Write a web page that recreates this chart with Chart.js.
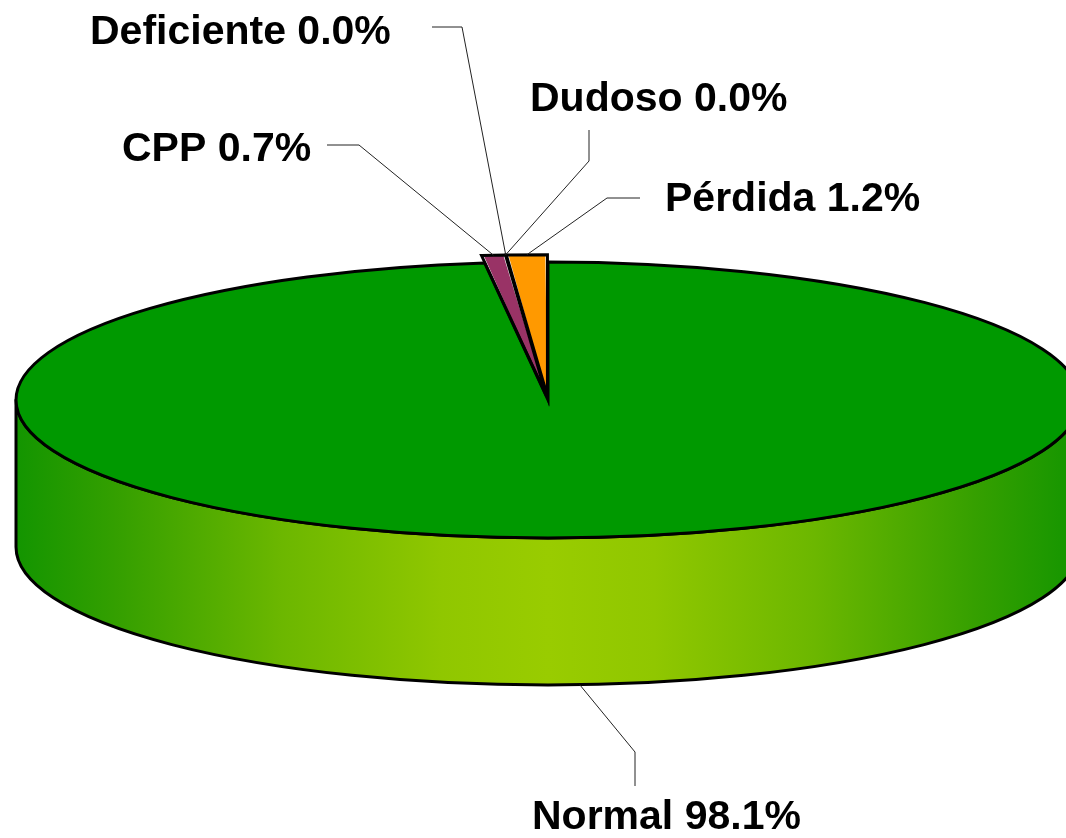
<!DOCTYPE html>
<html>
<head>
<meta charset="utf-8">
<script src="https://cdn.jsdelivr.net/npm/chart.js@4"></script>
<style>
html,body{margin:0;padding:0;background:#ffffff;}
#wrap{width:1066px;height:838px;position:relative;}
</style>
</head>
<body>
<div id="wrap"><canvas id="c"></canvas></div>
<script>
// ---- data ----
const categories = ['Normal', 'CPP', 'Deficiente', 'Dudoso', 'Pérdida'];
const percentages = [98.1, 0.7, 0.0, 0.0, 1.2];
const sliceColors = ['#009900', '#993366', '#FFFFCC', '#CCFFFF', '#FF9900'];
const sliceOffsets = [0, 44, 44, 44, 44];

// ---- style / layout of the projected 3D pie ----
const PIE = { cx: 548, cy: 400, rx: 532, ry: 138, depth: 147 };
const LABEL_FONT = 'bold 41px "Liberation Sans", Arial, sans-serif';
const labelLayout = [
  { elbow: [635, 752], end: [635, 786], text: [532, 818] },  // Normal
  { elbow: [359, 145], end: [327, 145], text: [122, 150] },  // CPP
  { elbow: [462, 27],  end: [432, 27],  text: [90, 33] },    // Deficiente
  { elbow: [589, 161], end: [589, 130], text: [530, 100] },  // Dudoso
  { elbow: [607, 198], end: [640, 198], text: [665, 200] }   // Pérdida
];

function arcGeom(arc) {
  const p = arc.getProps(['x', 'y', 'startAngle', 'endAngle', 'outerRadius', 'circumference'], true);
  const off = (arc.options.offset || 0) / 4;
  const half = (p.startAngle + p.endAngle) / 2;
  const fix = 1 - Math.sin(Math.min(Math.PI, p.circumference || 0));
  return {
    x: p.x + Math.cos(half) * off,
    y: p.y + Math.sin(half) * off,
    r: p.outerRadius + off * fix,
    s: p.startAngle, e: p.endAngle, mid: half,
    cx0: p.x, cy0: p.y, R: p.outerRadius
  };
}
function applyProjection(ctx, g) {
  ctx.translate(PIE.cx, PIE.cy);
  ctx.scale(PIE.rx / g.R, PIE.ry / g.R);
  ctx.translate(-g.cx0, -g.cy0);
}
function toScreen(g, px, py) {
  return [PIE.cx + (px - g.cx0) * PIE.rx / g.R, PIE.cy + (py - g.cy0) * PIE.ry / g.R];
}

const pie3d = {
  id: 'pie3d',
  beforeDatasetsDraw(chart) {
    const ctx = chart.ctx;
    const arcs = chart.getDatasetMeta(0).data;
    // side walls (front half only)
    arcs.forEach((arc) => {
      const g = arcGeom(arc);
      const a0 = Math.max(g.s, 0), a1 = Math.min(g.e, Math.PI);
      if (a1 <= a0) return;
      const grad = ctx.createLinearGradient(PIE.cx - PIE.rx, 0, PIE.cx + PIE.rx, 0);
      grad.addColorStop(0, '#139500');
      grad.addColorStop(0.1, '#36a000');
      grad.addColorStop(0.25, '#6cb700');
      grad.addColorStop(0.4, '#90c700');
      grad.addColorStop(0.5, '#99cc00');
      grad.addColorStop(0.6, '#90c700');
      grad.addColorStop(0.75, '#6cb700');
      grad.addColorStop(0.9, '#36a000');
      grad.addColorStop(1, '#139500');
      ctx.save();
      ctx.beginPath();
      ctx.ellipse(PIE.cx, PIE.cy, PIE.rx, PIE.ry, 0, a0, a1);
      ctx.ellipse(PIE.cx, PIE.cy + PIE.depth, PIE.rx, PIE.ry, 0, a1, a0, true);
      ctx.closePath();
      ctx.fillStyle = grad;
      ctx.fill();
      ctx.lineWidth = 3;
      ctx.strokeStyle = '#000';
      ctx.lineJoin = 'round';
      ctx.stroke();
      ctx.restore();
    });
    // projection for the top faces drawn by Chart.js
    ctx.save();
    applyProjection(ctx, arcGeom(arcs[0]));
  },
  afterDatasetsDraw(chart) {
    const ctx = chart.ctx;
    ctx.restore();
    const arcs = chart.getDatasetMeta(0).data;
    // outlines of the top faces
    arcs.forEach((arc) => {
      const g = arcGeom(arc);
      if (g.e - g.s <= 0) return;
      ctx.save();
      applyProjection(ctx, g);
      ctx.beginPath();
      ctx.moveTo(g.x, g.y);
      ctx.arc(g.x, g.y, g.r, g.s, g.e);
      ctx.closePath();
      ctx.restore();
      ctx.save();
      ctx.lineWidth = 3;
      ctx.strokeStyle = '#000';
      ctx.lineJoin = 'miter';
      ctx.stroke();
      ctx.restore();
    });
    // labels and leader lines
    ctx.save();
    ctx.font = LABEL_FONT;
    ctx.fillStyle = '#000';
    ctx.textBaseline = 'middle';
    ctx.textAlign = 'left';
    arcs.forEach((arc, i) => {
      const g = arcGeom(arc);
      const lay = labelLayout[i];
      let [ax, ay] = toScreen(g, g.x + Math.cos(g.mid) * g.r, g.y + Math.sin(g.mid) * g.r);
      if (Math.sin(g.mid) > 0) ay += PIE.depth;
      ctx.beginPath();
      ctx.moveTo(ax, ay);
      ctx.lineTo(lay.elbow[0], lay.elbow[1]);
      ctx.lineTo(lay.end[0], lay.end[1]);
      ctx.lineWidth = 1;
      ctx.strokeStyle = '#222';
      ctx.stroke();
      const txt = categories[i] + ' ' + percentages[i].toFixed(1) + '%';
      ctx.fillText(txt, lay.text[0], lay.text[1]);
    });
    ctx.restore();
  }
};

new Chart(document.getElementById('c'), {
  type: 'pie',
  data: {
    labels: categories,
    datasets: [{
      data: percentages,
      backgroundColor: sliceColors,
      borderWidth: 0,
      offset: sliceOffsets,
      clip: false
    }]
  },
  options: {
    responsive: true,
    maintainAspectRatio: false,
    animation: false,
    layout: { padding: 0 },
    plugins: { legend: { display: false }, tooltip: { enabled: false } }
  },
  plugins: [pie3d]
});
</script>
</body>
</html>
